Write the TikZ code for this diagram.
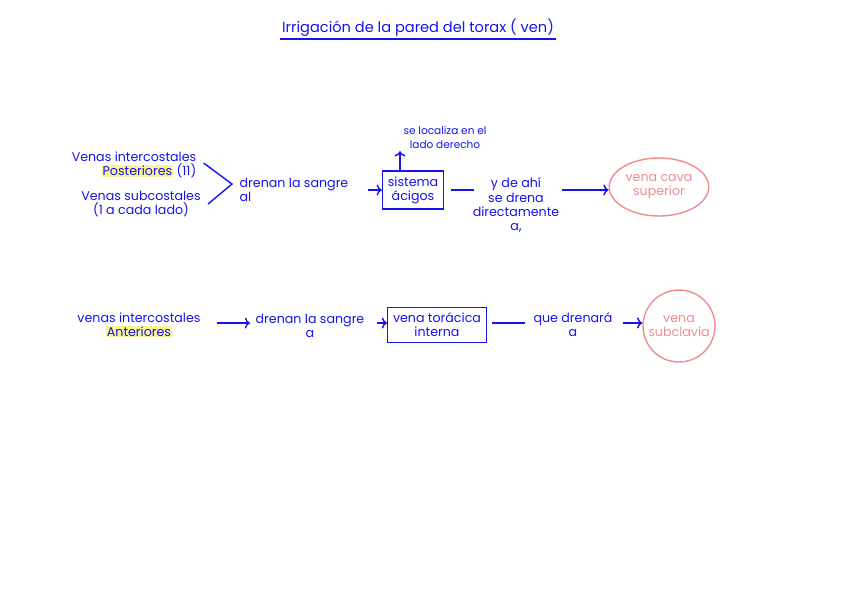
\documentclass[tikz,border=0pt]{standalone}
\usepackage{fontspec}
\setmainfont{Poppins}
\usetikzlibrary{arrows.meta, positioning, shapes.geometric}
\definecolor{pen}{RGB}{20,20,235}
\definecolor{rosa}{RGB}{240,140,140}
\definecolor{marca}{RGB}{250,245,150}
\newcommand{\marcar}[1]{{\setlength{\fboxsep}{0.6pt}\colorbox{marca}{#1}}}

\begin{document}
\begin{tikzpicture}[
		x=0.02cm, y=-0.02cm,
		every node/.style={text=pen, font=\fontsize{7.2}{8}\selectfont, align=center, inner sep=1pt},
		caja/.style={draw=pen, thick, inner sep=3pt},
		vena/.style={ellipse, draw=rosa, thick, text=rosa},
		arrow/.style={-{To[length=3pt]}, pen, thick},
		linea/.style={pen, thick}
	]
		\useasboundingbox (0,0) rectangle (848,599);

		% Title
		\node (titulo) at (418,28) {\fontsize{8.3}{10}\selectfont Irrigación de la pared del torax ( ven)};
		\draw[linea] (titulo.south west) -- (titulo.south east);

		% Nodes, first row
		\node[align=right] (post) at (134,165) {Venas intercostales\\ \marcar{Posteriores} (11)};
		\node (sub) at (141,204) {Venas subcostales\\ (1 a cada lado)};
		\coordinate (pico) at (232,184);
		\node[align=left] (drenan) at (294,190) {drenan la sangre\\ al};
		\node[caja] (acigos) at (413,190) {sistema\\ ácigos};
		\node (lado) at (445,138) {\fontsize{6}{7}\selectfont se localiza en el\\ \fontsize{6}{7}\selectfont lado derecho};
		\node (ahi) at (516,205) {y de ahí\\ se drena\\ directamente\\ a,};
		\node[vena, minimum width=1.86cm, minimum height=1.16cm] (cava) at (659,187) {vena cava\\ superior};

		% Nodes, second row
		\node (ant) at (139,325) {venas intercostales\\ \marcar{Anteriores}};
		\node (drenan2) at (310,326) {drenan la sangre\\ a};
		\node[caja] (toracica) at (437,325) {vena torácica\\ interna};
		\node (drenara) at (573,325) {que drenará\\ a};
		\node[vena, circle, minimum size=1.44cm] (subclavia) at (679,326) {vena\\ subclavia};

		% Arrows
		\draw[linea] ([xshift=3pt]post.east |- 0,163) -- (pico) -- ([xshift=3pt]sub.east |- 0,204);
		\draw[arrow] ([xshift=10pt]drenan.east) -- (acigos);
		\draw[arrow] (acigos.north -| 400,0) -- (lado.south -| 400,0);
		\draw[linea] ([xshift=4pt]acigos.east) -- (474,190);
		\draw[arrow] (562,190) -- (cava.west |- 0,190);
		\draw[arrow] ([xshift=8pt]ant.east |- 0,323) -- (250,323);
		\draw[arrow] ([xshift=6pt]drenan2.east |- 0,323) -- (toracica.west |- 0,323);
		\draw[linea] ([xshift=3pt]toracica.east |- 0,323) -- (525,323);
		\draw[arrow] (623,323) -- (subclavia.west |- 0,323);

	\end{tikzpicture}
\end{document}
